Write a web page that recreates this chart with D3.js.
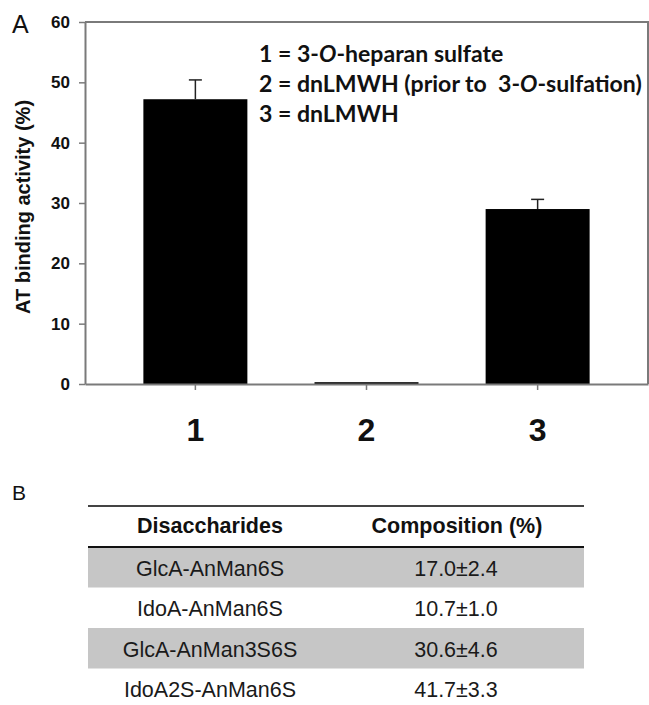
<!DOCTYPE html>
<html><head><meta charset="utf-8">
<script src="https://cdn.jsdelivr.net/npm/d3@7"></script>
<style>body{margin:0;background:#fff}svg{display:block}</style>
</head><body>
<svg id="c" width="649" height="705"></svg>
<script>
// ---- data ----
const categories = ["1", "2", "3"];
const values = [47.2, 0.3, 29.0];
const errors = [3.2, 0.0, 1.6];
const yTicks = [0, 10, 20, 30, 40, 50, 60];
const legendLines = [
  [["1 = 3-", false], ["O", true], ["-heparan sulfate", false]],
  [["2 = dnLMWH (prior to  3-", false], ["O", true], ["-sulfation)", false]],
  [["3 = dnLMWH", false]]
];
const tableHeader = ["Disaccharides", "Composition (%)"];
const tableNames = ["GlcA-AnMan6S", "IdoA-AnMan6S", "GlcA-AnMan3S6S", "IdoA2S-AnMan6S"];
const tableValues = ["17.0±2.4", "10.7±1.0", "30.6±4.6", "41.7±3.3"];

const svg = d3.select("#c");
const L = 85, R = 648, T = 22, B = 384;
const axisCol = "#7a7a7a";
const sans = "Arial, 'Liberation Sans', sans-serif";

const y = d3.scaleLinear().domain([0, 60]).range([B, T]);
const x = d3.scaleBand().domain(categories).range([L, R]).paddingInner(0.39).paddingOuter(0.34);
const bw = 104;

// frame (top & right)
svg.append("path").attr("d", `M${L},${T}H${R}V${B}`).attr("fill", "none")
  .attr("stroke", axisCol).attr("stroke-width", 2);

// bars
categories.forEach((c, i) => {
  const cx = x(c) + x.bandwidth() / 2;
  svg.append("rect").attr("x", cx - bw / 2).attr("width", bw)
    .attr("y", y(values[i])).attr("height", Math.max(1.5, y(0) - y(values[i])))
    .attr("fill", "#000");
  if (errors[i] > 0) {
    const top = y(values[i] + errors[i]);
    svg.append("line").attr("x1", cx).attr("x2", cx).attr("y1", y(values[i])).attr("y2", top)
      .attr("stroke", "#222").attr("stroke-width", 1.5);
    svg.append("line").attr("x1", cx - 6.5).attr("x2", cx + 6.5).attr("y1", top).attr("y2", top)
      .attr("stroke", "#222").attr("stroke-width", 1.5);
  }
});

// y axis
const ya = svg.append("g").attr("transform", `translate(${L},0)`)
  .call(d3.axisLeft(y).tickValues(yTicks).tickSize(6).tickSizeOuter(0).tickPadding(9));
ya.select(".domain").attr("stroke", axisCol).attr("stroke-width", 2);
ya.selectAll(".tick line").attr("stroke", axisCol).attr("stroke-width", 1.5);
ya.selectAll(".tick text").attr("font-family", sans).attr("font-weight", "bold")
  .attr("font-size", 17).attr("fill", "#111");

// x axis
const xa = svg.append("g").attr("transform", `translate(0,${B})`)
  .call(d3.axisBottom(x).tickSize(6).tickSizeOuter(0).tickPadding(28));
xa.select(".domain").attr("stroke", axisCol).attr("stroke-width", 2);
xa.selectAll(".tick line").attr("stroke", axisCol).attr("stroke-width", 1.5);
xa.selectAll(".tick text").attr("font-family", sans).attr("font-weight", "bold")
  .attr("font-size", 32).attr("fill", "#111");

// y label
svg.append("text").attr("transform", `translate(30,207) rotate(-90)`)
  .attr("text-anchor", "middle").attr("font-family", sans).attr("font-weight", "bold")
  .attr("font-size", 20).attr("fill", "#111").text("AT binding activity (%)");

// panel letters
svg.append("text").attr("x", 12).attr("y", 33).attr("font-family", sans)
  .attr("font-size", 25).attr("fill", "#111").text("A");
svg.append("text").attr("x", 12).attr("y", 500).attr("font-family", sans)
  .attr("font-size", 21).attr("fill", "#111").text("B");

// legend
const legFont = "Lato, 'Open Sans', sans-serif";
const legG = svg.append("g");
const legTexts = legendLines.map((parts, i) => {
  const t = legG.append("text").attr("x", 259).attr("y", 62 + i * 30)
    .attr("font-family", legFont).attr("font-weight", "bold").attr("font-size", 20)
    .attr("fill", "#111").style("white-space", "pre");
  parts.forEach(p => t.append("tspan").attr("font-style", p[1] ? "italic" : "normal").text(p[0]));
  return t;
});
const w2 = legTexts[1].node().getComputedTextLength();
const fs = 20 * 383 / w2;
legTexts.forEach(t => t.attr("font-size", fs));

// table
const tx0 = 88, tx1 = 584;
const colC = [210, 457];
const rowTop = 547, rowH = 40.5;
const tFs = 21.5;
tableNames.forEach((n, i) => {
  if (i % 2 === 0) svg.append("rect").attr("x", tx0).attr("width", tx1 - tx0)
    .attr("y", rowTop + i * rowH).attr("height", rowH).attr("fill", "#c6c6c6");
  svg.append("text").attr("x", colC[0]).attr("y", rowTop + i * rowH + 28.5)
    .attr("text-anchor", "middle").attr("font-family", sans).attr("font-size", tFs)
    .attr("fill", "#1a1a1a").text(n);
  svg.append("text").attr("x", colC[1] - 1).attr("y", rowTop + i * rowH + 28.5)
    .attr("text-anchor", "middle").attr("font-family", sans).attr("font-size", tFs)
    .attr("fill", "#1a1a1a").text(tableValues[i]);
});
svg.append("line").attr("x1", tx0).attr("x2", tx1).attr("y1", 506).attr("y2", 506)
  .attr("stroke", "#444").attr("stroke-width", 2);
svg.append("line").attr("x1", tx0).attr("x2", tx1).attr("y1", 547).attr("y2", 547)
  .attr("stroke", "#111").attr("stroke-width", 2);
tableHeader.forEach((h, j) => {
  svg.append("text").attr("x", colC[j]).attr("y", 533).attr("text-anchor", "middle")
    .attr("font-family", sans).attr("font-weight", "bold").attr("font-size", tFs)
    .attr("fill", "#111").text(h);
});
</script>
</body></html>
